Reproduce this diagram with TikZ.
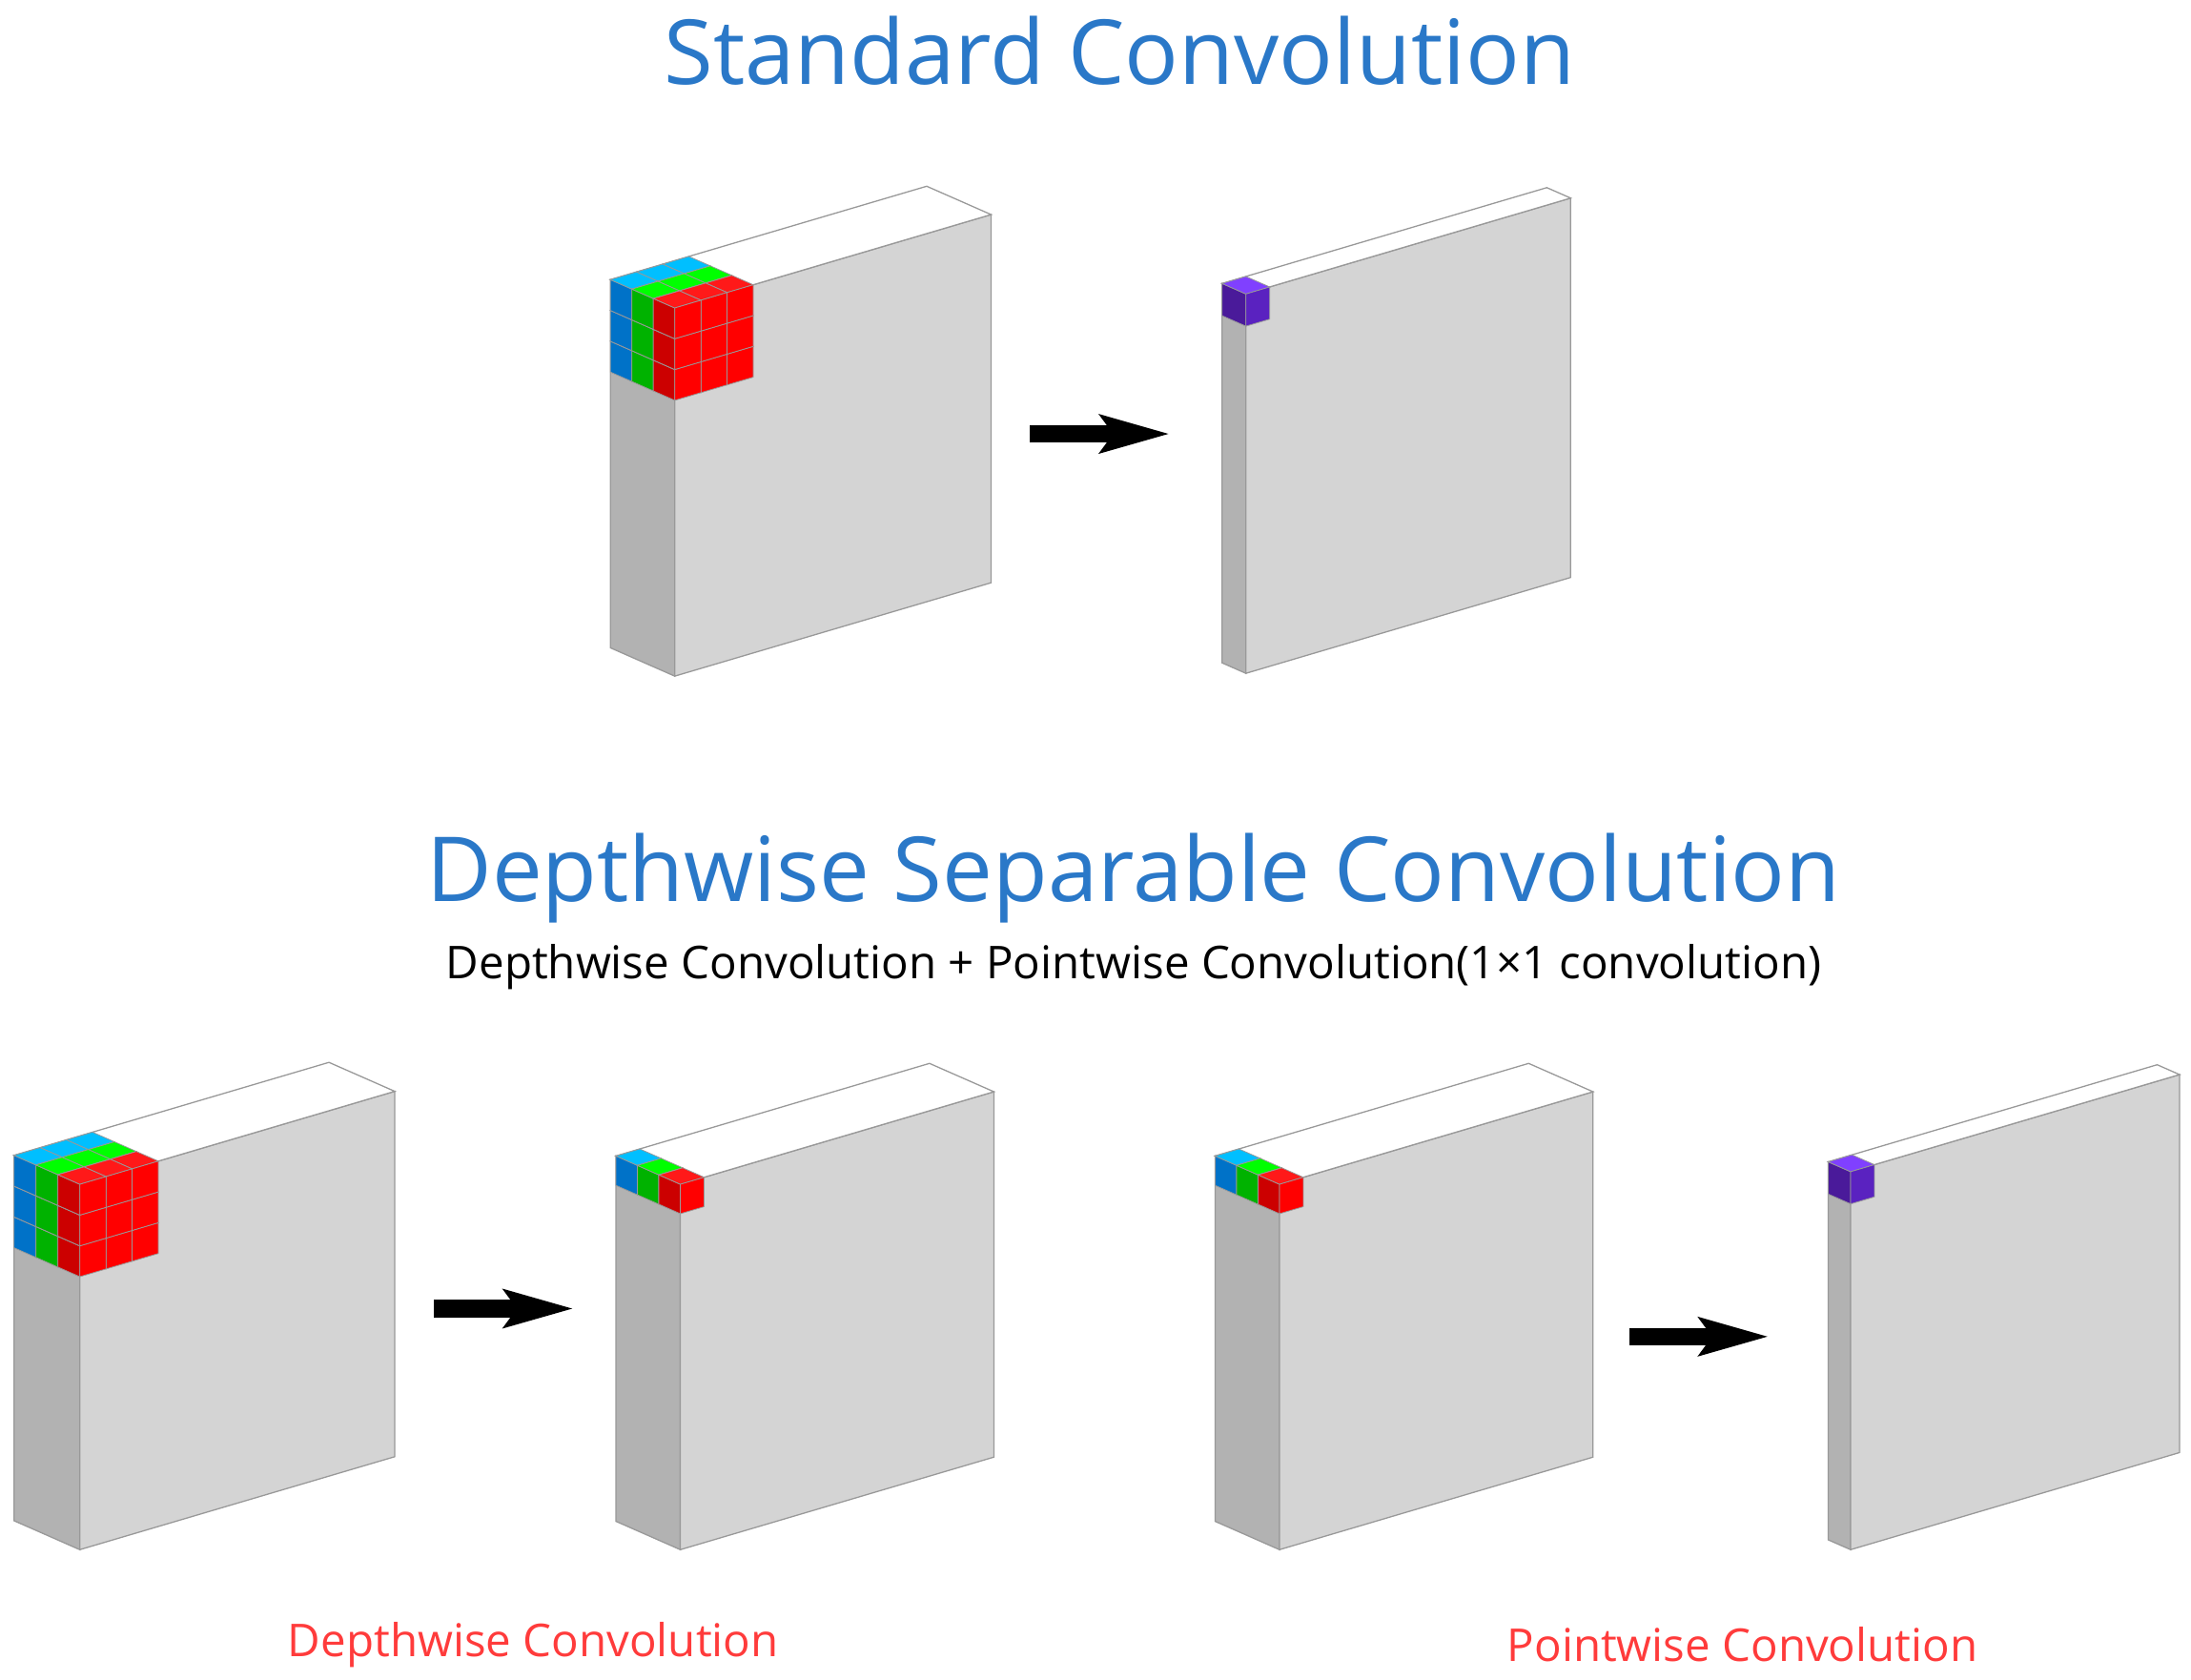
\documentclass[tikz,border=0pt]{standalone}
\usepackage{fontspec}
\setmainfont{Open Sans}
\usetikzlibrary{arrows.meta, positioning}
\definecolor{titleblue}{HTML}{2A78C8}
\definecolor{labelred}{HTML}{FF3B3B}
\colorlet{L0f}{red}          \colorlet{L0t}{red!90!white} \colorlet{L0s}{red!80!black}
\colorlet{L1f}{green!85!black}\colorlet{L1t}{green}       \colorlet{L1s}{green!70!black}
\definecolor{L2f}{HTML}{0090E0}\definecolor{L2t}{HTML}{00BFFF}\definecolor{L2s}{HTML}{0072C8}
\definecolor{P0f}{HTML}{5A22C0}\definecolor{P0t}{HTML}{8040FF}\definecolor{P0s}{HTML}{4A1A9A}
\tikzset{face/.style={draw=gray!80,line width=0.5pt},
  cellface/.style={draw=black!40,line width=0.3pt},
  bigarrow/.style={line width=7pt,-{Stealth[length=28pt,width=15pt,inset=5pt]}},
  title/.style={text=titleblue,font=\fontsize{36.5}{44}\selectfont},
  sub/.style={font=\fontsize{18.4}{22}\selectfont},
  redlabel/.style={text=labelred,font=\fontsize{18.4}{22}\selectfont}}
% block: front top-left (X,Y) in px, width, height, depth
\newcommand\block[5]{%
  \begin{scope}[shift={({#1*0.02},{-#2*0.02})},x={(0.02cm,0.0059cm)},y={(0,-0.02cm)},z={(-0.02cm,0.0088cm)}]
    \filldraw[face,fill=black!30] (0,0,0) -- (0,0,#5) -- (0,#4,#5) -- (0,#4,0) -- cycle;
    \filldraw[face,fill=black!17] (0,0,0) -- (#3,0,0) -- (#3,#4,0) -- (0,#4,0) -- cycle;
    \filldraw[face,fill=white] (0,0,0) -- (#3,0,0) -- (#3,0,#5) -- (0,0,#5) -- cycle;
  \end{scope}}
% kernel: corner (X,Y), cells nw nh nd, cell size cw ch cd, colour prefix
\newcommand\kernel[9]{%
  \begin{scope}[shift={({#1*0.02},{-#2*0.02})},x={({#6*0.02cm},{#6*0.0059cm})},y={(0,{-#7*0.02cm})},z={({-#8*0.02cm},{#8*0.0088cm})}]
    \pgfmathtruncatemacro\imax{#3-1}\pgfmathtruncatemacro\jmax{#4-1}\pgfmathtruncatemacro\kmax{#5-1}
    \foreach \k in {\kmax,...,0}
    \foreach \i in {\imax,...,0}
    \foreach \j in {\jmax,...,0}{
      \filldraw[cellface,fill=#9\k s] (\i,\j,\k) -- (\i,\j,\k+1) -- (\i,\j+1,\k+1) -- (\i,\j+1,\k) -- cycle;
      \filldraw[cellface,fill=#9\k t] (\i,\j,\k) -- (\i+1,\j,\k) -- (\i+1,\j,\k+1) -- (\i,\j,\k+1) -- cycle;
      \filldraw[cellface,fill=#9\k f] (\i,\j,\k) -- (\i+1,\j,\k) -- (\i+1,\j+1,\k) -- (\i,\j+1,\k) -- cycle;
    }
  \end{scope}}
\begin{document}
\begin{tikzpicture}
  \useasboundingbox (0,0) rectangle (31.31,-24);
  % Standard convolution
  \node[title] (std) at (16.0,-0.72) {Standard Convolution};
  \block{482}{220}{226}{263}{46}
  \kernel{482}{220}{3}{3}{3}{18.7}{22}{15.33}{L}
  \block{890}{210}{232}{271}{17}
  \kernel{890}{210}{1}{1}{1}{17}{23}{17}{P}
  \coordinate (a1s) at (14.72,-6.2);
  \coordinate (a1e) at (16.72,-6.2);
  \draw[bigarrow] (a1s) -- (a1e);

  % Depthwise separable convolution
  \node[title] (dsc) at (16.2,-12.55) {Depthwise Separable Convolution};
  \node[sub, below=0.05cm of dsc] (subt) {Depthwise Convolution + Pointwise Convolution(1×1 convolution)};
  \block{57}{846}{225}{261}{47}
  \kernel{57}{846}{3}{3}{3}{18.7}{22}{15.67}{L}
  \block{486}{846}{224}{261}{46}
  \kernel{486}{846}{1}{1}{3}{17}{21}{15.33}{L}
  \block{914}{846}{224}{261}{46}
  \kernel{914}{846}{1}{1}{3}{17}{21}{15.33}{L}
  \block{1322}{837}{235}{270}{16}
  \kernel{1322}{837}{1}{1}{1}{17}{23}{16}{P}
  \coordinate (a2s) at (6.2,-18.7);
  \coordinate (a2e) at (8.2,-18.7);
  \draw[bigarrow] (a2s) -- (a2e);
  \coordinate (a3s) at (23.28,-19.1);
  \coordinate (a3e) at (25.28,-19.1);
  \draw[bigarrow] (a3s) -- (a3e);

  \node[redlabel] (dwl) at (7.62,-23.5) {Depthwise Convolution};
  \node[redlabel] (pwl) at (24.9,-23.5) {Pointwise Convolution};
\end{tikzpicture}
\end{document}
